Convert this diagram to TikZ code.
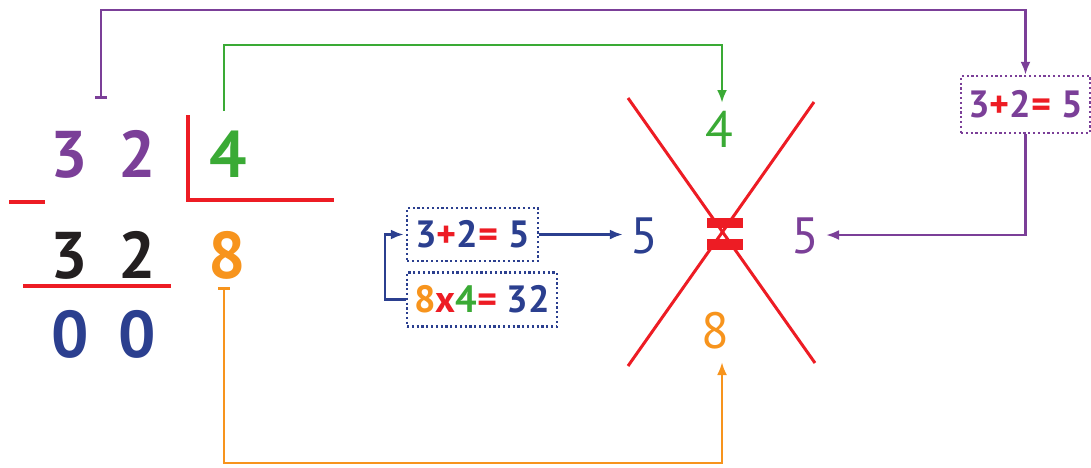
\documentclass[tikz,border=0pt]{standalone}
\usepackage{fontspec}
\setmainfont{PT Sans}
\usetikzlibrary{arrows.meta}
\definecolor{cpurple}{HTML}{7B3F98}
\definecolor{cgreen}{HTML}{3AAA35}
\definecolor{cred}{HTML}{ED1C24}
\definecolor{corange}{HTML}{F7941D}
\definecolor{cblue}{HTML}{2B3F8F}
\definecolor{cblack}{HTML}{231F20}
\tikzset{
  big/.style={inner sep=0pt, anchor=base, font=\fontsize{66}{66}\selectfont\bfseries},
  mid/.style={inner sep=0pt, anchor=base, font=\fontsize{51}{51}\selectfont},
  eqbox/.style={draw, line width=2.3pt, dash pattern=on 2.2pt off 2.6pt, inner sep=0pt,
    font=\fontsize{38}{38}\selectfont\bfseries},
  conn/.style={line width=2.6pt, -{Latex[length=13pt,width=10pt]}},
  redline/.style={cred, line width=4pt},
}
\begin{document}
\begin{tikzpicture}[x=1pt,y=-1pt]
\useasboundingbox (0,0) rectangle (1091,467);
% left division
\node[big, text=cpurple] (a3) at (69,177) {3};
\node[big, text=cpurple] (a2) at (137,177) {2};
\node[big, text=cgreen] (d4) at (228,177) {4};
\node[big, text=cblack] (b3) at (69,278) {3};
\node[big, text=cblack] (b2) at (137,278) {2};
\node[big, text=corange] (q8) at (227,278) {8};
\node[big, text=cblue] (c0) at (70,357) {0};
\node[big, text=cblue] (c1) at (137,357) {0};
\draw[redline] (188,115) -- (188,200) -- (334,200);
\draw[redline] (9,202) -- (45,202);
\draw[redline] (23,286) -- (171,286);
% boxes
\node[eqbox, cblue, minimum width=131pt, minimum height=53pt] (box1) at (472.5,234.5)
  {\textcolor{cblue}{3}\textcolor{cred}{+}\textcolor{cblue}{2}\textcolor{cred}{=} \textcolor{cblue}{5}};
\node[eqbox, cblue, minimum width=150pt, minimum height=54pt] (box2) at (482,299.5)
  {\textcolor{corange}{8}\textcolor{cred}{x}\textcolor{cgreen}{4}\textcolor{cred}{=} \textcolor{cblue}{32}};
\node[eqbox, cpurple, minimum width=129pt, minimum height=57pt] (pbox) at (1025.5,104.5)
  {\textcolor{cpurple}{3}\textcolor{cred}{+}\textcolor{cpurple}{2}\textcolor{cred}{=} \textcolor{cpurple}{5}};
% cross
\draw[cred, line width=3pt] (628,98) -- (815,363);
\draw[cred, line width=3pt] (814,102) -- (628,366);
\fill[cred] (707,218) rectangle (743,228);
\fill[cred] (707,239) rectangle (743,250);
\node[mid, text=cgreen] (x4) at (719,147) {4};
\node[mid, text=corange] (x8) at (715,348) {8};
\node[mid, text=cblue] (x5l) at (644,253) {5};
\node[mid, text=cpurple] (x5r) at (805,253) {5};
% connectors
\coordinate (ptick) at (101,99);
\coordinate (ptop) at (101,10);
\coordinate (gstart) at (224,111);
\coordinate (gtop) at (224,45);
\coordinate (gend) at (722,103);
\coordinate (otick) at (224,287);
\coordinate (obot) at (224,463);
\coordinate (oend) at (722,362);
\coordinate (pend) at (826,235);
\draw[conn, cpurple, {Bar[width=12pt]}-{Latex[length=13pt,width=10pt]}] (ptick) -- (ptop) -| (pbox.north);
\draw[conn, cgreen] (gstart) -- (gtop) -| (gend);
\draw[conn, corange, {Bar[width=12pt]}-{Latex[length=13pt,width=10pt]}] (otick) -- (obot) -| (oend);
\draw[conn, cpurple] (pbox.south) |- (pend);
\draw[conn, cblue] (box1.east) -- ([xshift=-7pt]x5l.west |- box1.east);
\draw[conn, cblue] (box2.west) -- ++(-21,0) |- ([xshift=-2pt]box1.west);
\end{tikzpicture}
\end{document}
